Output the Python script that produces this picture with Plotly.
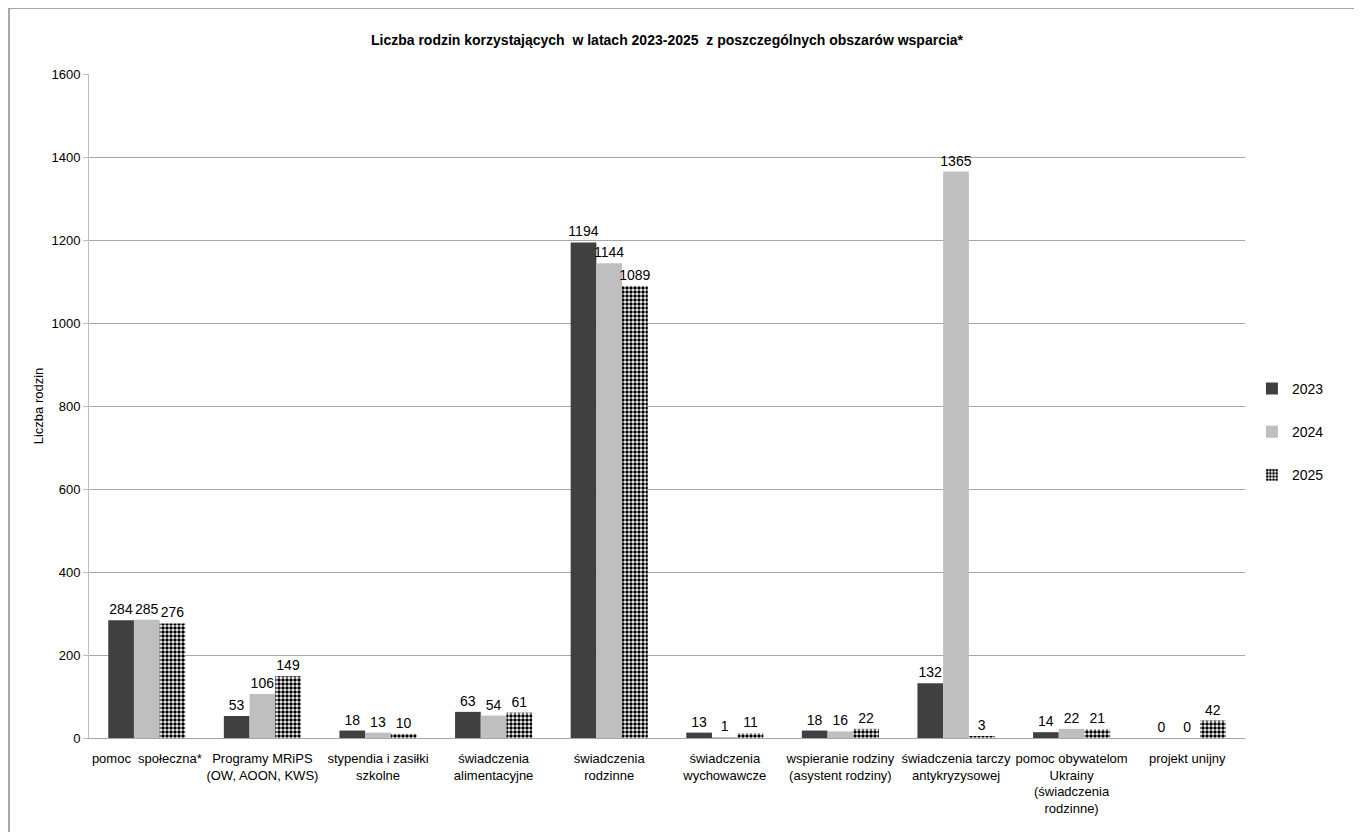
import plotly.graph_objects as go

categories = [
    "pomoc  społeczna*",
    "Programy MRiPS<br>(OW, AOON, KWS)",
    "stypendia i zasiłki<br>szkolne",
    "świadczenia<br>alimentacyjne",
    "świadczenia<br>rodzinne",
    "świadczenia<br>wychowawcze",
    "wspieranie rodziny<br>(asystent rodziny)",
    "świadczenia tarczy<br>antykryzysowej",
    "pomoc obywatelom<br>Ukrainy<br>(świadczenia<br>rodzinne)",
    "projekt unijny",
]
v2023 = [284, 53, 18, 63, 1194, 13, 18, 132, 14, 0]
v2024 = [285, 106, 13, 54, 1144, 1, 16, 1365, 22, 0]
v2025 = [276, 149, 10, 61, 1089, 11, 22, 3, 21, 42]
years = ["2023", "2024", "2025"]

FONT = "Liberation Sans Narrow, Arial Narrow, Liberation Sans, Arial, sans-serif"

fig = go.Figure()
common = dict(textposition="outside", constraintext="none", cliponaxis=False,
              textfont=dict(size=14, color="#000"))
fig.add_trace(go.Bar(
    x=categories, y=v2023, name=years[0], legendgroup="a",
    marker=dict(color="#404040", line=dict(width=0)),
    text=[str(v) for v in v2023], **common,
))
fig.add_trace(go.Bar(
    x=categories, y=v2024, name=years[1], legendgroup="b",
    marker=dict(color="#BFBFBF", line=dict(width=0)),
    text=[str(v) for v in v2024], **common,
))
fig.add_trace(go.Bar(
    x=categories, y=v2025, name=years[2], legendgroup="c",
    marker=dict(color="#FFFFFF", line=dict(width=0),
                pattern=dict(shape=".", fgcolor="#000000", bgcolor="#FFFFFF",
                             size=4, solidity=0.6, fillmode="replace")),
    text=[str(v) for v in v2025], **common,
))

fig.update_layout(
    width=1362, height=832,
    paper_bgcolor="white", plot_bgcolor="white",
    font=dict(family=FONT, size=13, color="#000"),
    margin=dict(l=81, r=125, t=66, b=102),
    barmode="group", bargap=0.333, bargroupgap=0,
    title=dict(text="<b>Liczba rodzin korzystających  w latach 2023-2025  z poszczególnych obszarów wsparcia*</b>",
               x=0.5, xref="paper", y=0.9615, yanchor="middle",
               font=dict(size=14, family=FONT)),
    legend=dict(x=1.006, y=0.461, xanchor="left", yanchor="middle",
                font=dict(size=14), tracegroupgap=22, itemwidth=30,
                traceorder="grouped"),
    showlegend=True,
)
fig.update_yaxes(
    range=[0, 1600], dtick=200, showgrid=True, gridcolor="#A6A6A6", gridwidth=1,
    showline=True, linecolor="#BFBFBF", linewidth=1,
    ticks="outside", ticklen=5, tickcolor="#BFBFBF",
    tickfont=dict(size=13), zeroline=False,
    title=dict(text="Liczba rodzin", font=dict(size=13), standoff=4),
)
fig.update_xaxes(
    showline=True, linecolor="#A6A6A6", linewidth=1,
    ticks="", tickfont=dict(size=13), tickangle=0, ticklabelstandoff=8,
)
fig.add_shape(type="rect", xref="paper", yref="paper",
              x0=-0.0692, x1=1.0978, y0=-0.15, y1=1.0994,
              line=dict(color="#8C8C8C", width=1.5), fillcolor="rgba(0,0,0,0)",
              layer="below")

fig.write_html("out.html")
